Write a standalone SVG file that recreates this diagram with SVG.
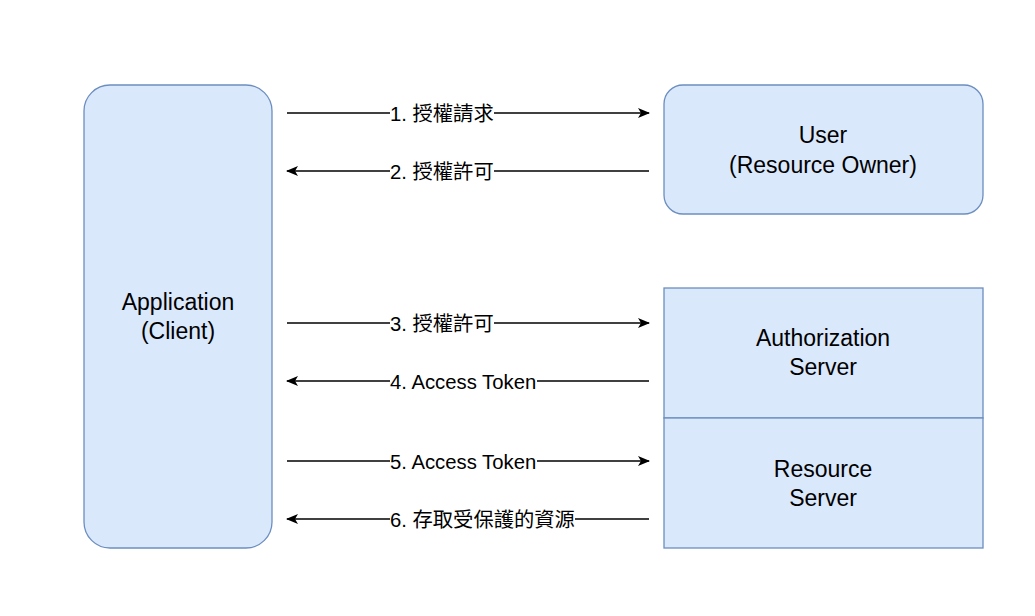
<svg xmlns="http://www.w3.org/2000/svg" width="1035" height="616" viewBox="0 0 1035 616">
<style>
.box{fill:#dae8fc;stroke:#6c8ebf;stroke-width:1.3}
.t{font-family:"Liberation Sans","Noto Sans CJK TC",Arial,sans-serif;font-size:23px;fill:#000;text-anchor:middle}
.l{font-family:"Liberation Sans","Noto Sans CJK TC",Arial,sans-serif;font-size:20.3px;fill:#000}
.e{stroke:#000;stroke-width:1.3;fill:none}
.bg{fill:#fff}
</style>
<defs>
<marker id="ah" viewBox="0 0 12 10" refX="11" refY="5" markerWidth="12" markerHeight="10" markerUnits="userSpaceOnUse" orient="auto">
<path d="M0,0 L12,5 L0,10 L3,5 Z" fill="#000"/>
</marker>
</defs>
<rect width="1035" height="616" fill="#fff"/>
<g id="app"><rect class="box" x="84" y="85" width="188" height="463" rx="26"/><text class="t" x="178" y="310">Application</text><text class="t" x="178" y="339">(Client)</text></g>
<g id="user"><rect class="box" x="664" y="85" width="319" height="129" rx="19"/><text class="t" x="823" y="143">User</text><text class="t" x="823" y="173">(Resource Owner)</text></g>
<g id="auth"><rect class="box" x="664" y="288" width="319" height="130"/><text class="t" x="823" y="346">Authorization</text><text class="t" x="823" y="375">Server</text></g>
<g id="res"><rect class="box" x="664" y="418" width="319" height="130"/><text class="t" x="823" y="477">Resource</text><text class="t" x="823" y="506">Server</text></g>
<g id="connectors">
<line class="e" x1="287" y1="113" x2="649" y2="113" marker-end="url(#ah)"/>
<line class="e" x1="649" y1="171" x2="287" y2="171" marker-end="url(#ah)"/>
<line class="e" x1="287" y1="323" x2="649" y2="323" marker-end="url(#ah)"/>
<line class="e" x1="649" y1="381" x2="287" y2="381" marker-end="url(#ah)"/>
<line class="e" x1="287" y1="461" x2="649" y2="461" marker-end="url(#ah)"/>
<line class="e" x1="649" y1="519" x2="287" y2="519" marker-end="url(#ah)"/>
<rect class="bg" x="390" y="101" width="104" height="24"/><text class="l" x="390" y="120.5">1. 授權請求</text>
<rect class="bg" x="390" y="159" width="104" height="24"/><text class="l" x="390" y="178.5">2. 授權許可</text>
<rect class="bg" x="390" y="311" width="104" height="24"/><text class="l" x="390" y="330.5">3. 授權許可</text>
<rect class="bg" x="390" y="369" width="147" height="24"/><text class="l" x="390" y="388.5">4. Access Token</text>
<rect class="bg" x="390" y="449" width="147" height="24"/><text class="l" x="390" y="468.5">5. Access Token</text>
<rect class="bg" x="390" y="507" width="185" height="24"/><text class="l" x="390" y="526.5">6. 存取受保護的資源</text>
</g>
</svg>
